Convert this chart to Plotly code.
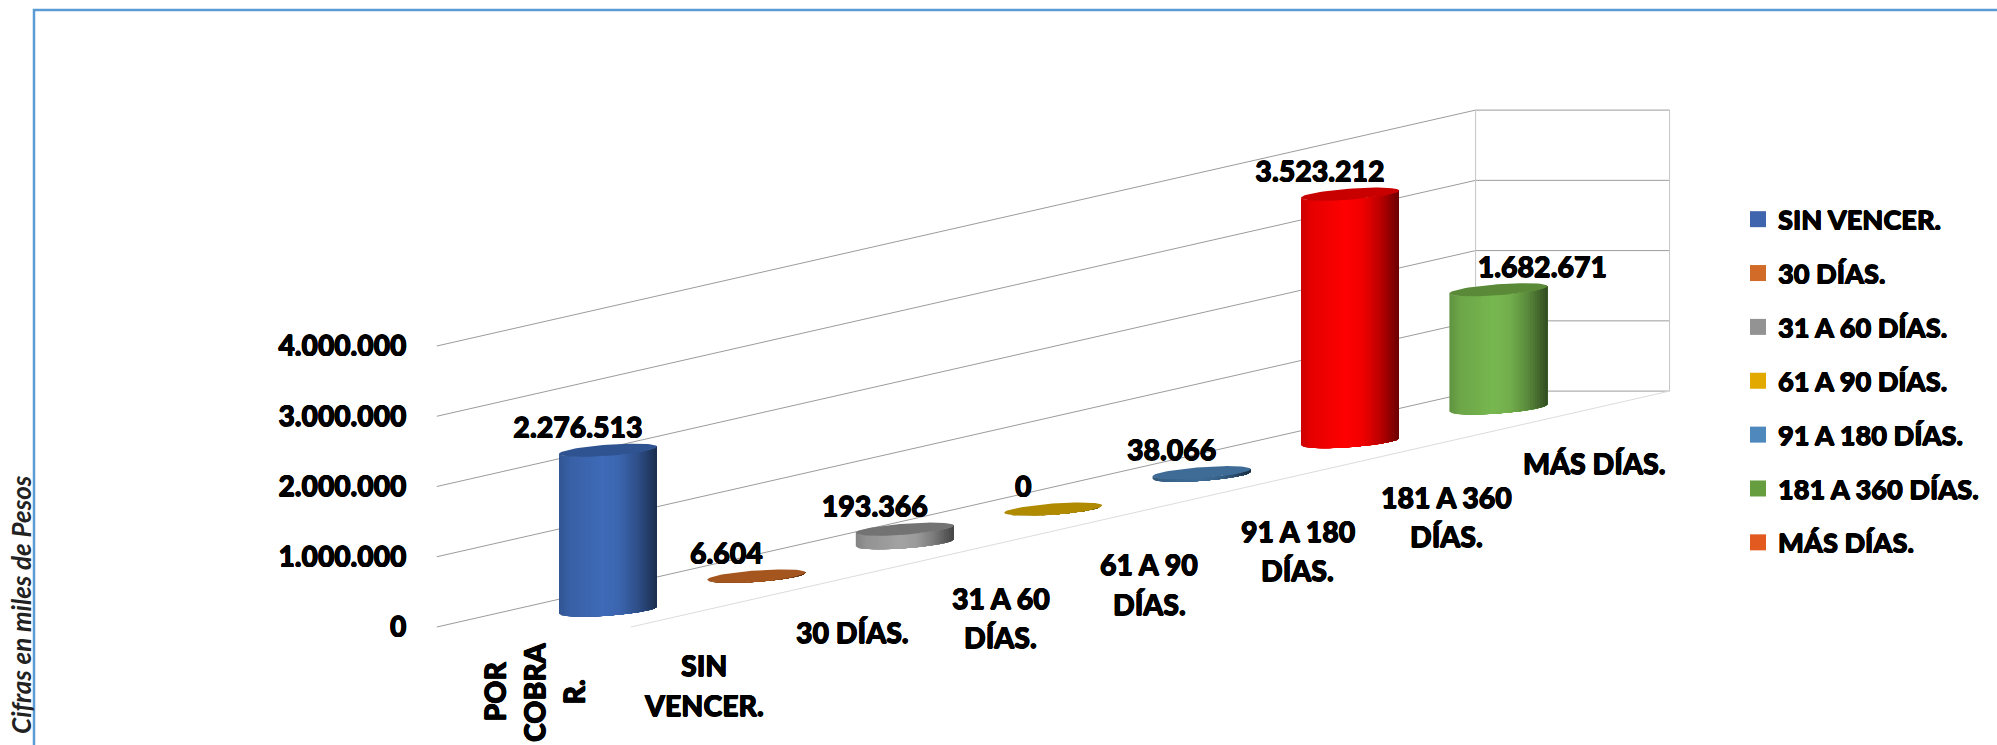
import numpy as np
import plotly.graph_objects as go

# ---- data ----
categories = ["POR<br>COBRA<br>R.", "SIN<br>VENCER.", "30 DÍAS.", "31 A 60<br>DÍAS.", "61 A 90<br>DÍAS.",
              "91 A 180<br>DÍAS.", "181 A 360<br>DÍAS.", "MÁS DÍAS."]
bar_values = [2276513, 6604, 193366, 0, 38066, 3523212, 1682671]
bar_colors = ["#3f6bb8", "#a5561f", "#a3a3a3", "#b08a00", "#3e6c96", "#ff0000", "#78b850"]
cap_colors = ["#2f5290", "#a5561f", "#737373", "#b08a00", "#3e6c96", "#c80000", "#5a8a38"]
legend_names = ["SIN VENCER.", "30 DÍAS.", "31 A 60 DÍAS.", "61 A 90 DÍAS.", "91 A 180 DÍAS.", "181 A 360 DÍAS.", "MÁS DÍAS."]
legend_colors = ["#3f65ae", "#d26b27", "#939393", "#e2aa00", "#4f88bd", "#659d3f", "#e25a1f"]
y_ticks = [0, 1000000, 2000000, 3000000, 4000000]

# ---- oblique projection expressed in the axes' own units ----
W, H = 1997, 745
PX_L, PX_R, PX_T = 415, 1700, 10
PX_PER_CAT = 148.4
PX_PER_VAL = 70.25e-6
X0_PX, Y0_PX = 608.0, 627.0
SHEAR = 33.7 / PX_PER_VAL          # value-units the floor rises per category
DEPTH = 97.0 / PX_PER_CAT          # category-units between mid-floor and wall/front
RADIUS = 49.0 / PX_PER_CAT
TILT = 3.6 / PX_PER_VAL
MINOR = 5.5 / PX_PER_VAL
px_units = 1 / PX_PER_VAL

xrange_ = [(PX_L - X0_PX) / PX_PER_CAT, (PX_R - X0_PX) / PX_PER_CAT]
yrange_ = [(Y0_PX - H) / PX_PER_VAL, (Y0_PX - PX_T) / PX_PER_VAL]


def lift(c, v):
    return v + (c + 0.5) * SHEAR


def shade(hex_color, f):
    r, g, b = [int(hex_color[i:i + 2], 16) for i in (1, 3, 5)]
    return f"rgb({min(255, int(r * f))},{min(255, int(g * f))},{min(255, int(b * f))})"


def grad(t):
    return float(np.interp(t, [0, 0.1, 0.45, 0.62, 0.8, 1.0], [0.80, 0.90, 1.0, 0.95, 0.75, 0.42]))


fig = go.Figure()

# walls and floor
GRID = "#9c9c9c"
for v in y_ticks:
    fig.add_trace(go.Scatter(
        x=[-0.5 - DEPTH, 6.5 - DEPTH, 6.5 + DEPTH],
        y=[lift(-0.5, v), lift(6.5, v), lift(6.5, v)],
        mode="lines", line=dict(color=GRID, width=1), hoverinfo="skip", showlegend=False))
for xw in (6.5 - DEPTH, 6.5 + DEPTH):
    fig.add_trace(go.Scatter(
        x=[xw, xw], y=[lift(6.5, y_ticks[0]), lift(6.5, y_ticks[-1])],
        mode="lines", line=dict(color="#c4c4c4", width=1), hoverinfo="skip", showlegend=False))
fig.add_trace(go.Scatter(
    x=[-0.5 + DEPTH, 6.5 + DEPTH], y=[lift(-0.5, 0), lift(6.5, 0)],
    mode="lines", line=dict(color="#dcdcdc", width=1), hoverinfo="skip", showlegend=False))

# cylinders: painted left to right, each band reaching the right edge so no seams show
us = np.linspace(-1, 1, 41)
for i, (val, col, cap) in enumerate(zip(bar_values, bar_colors, cap_colors)):
    base = lift(i, 0)
    for j in range(len(us) - 1):
        rest = us[j:]
        low = base + TILT * rest + MINOR * (-np.sqrt(np.clip(1 - rest ** 2, 0, 1)))
        c = shade(col, grad((us[j] + us[j + 1] + 2) / 4))
        fig.add_trace(go.Scatter(
            x=np.concatenate([i + RADIUS * rest, (i + RADIUS * rest)[::-1]]),
            y=np.concatenate([low, (low + val)[::-1]]),
            mode="lines", fill="toself", fillcolor=c, line=dict(width=0),
            hoverinfo="skip", showlegend=False))
    th = np.linspace(0, 2 * np.pi, 80)
    fig.add_trace(go.Scatter(
        x=i + RADIUS * np.cos(th),
        y=base + val + TILT * np.cos(th) + MINOR * np.sin(th),
        mode="lines", fill="toself", fillcolor=cap, line=dict(width=0),
        hoverinfo="skip", showlegend=False))

HEAVY = "0.5px 0 0 #000, -0.5px 0 0 #000, 0 0.5px 0 #000, 0 -0.5px 0 #000"


def txt(size):
    return dict(family="Lato", size=size, color="#000000", weight=900, shadow=HEAVY)


# data labels
label_dx = [-30 / PX_PER_CAT] * 6 + [44 / PX_PER_CAT]
fig.add_trace(go.Scatter(
    x=[i + d for i, d in enumerate(label_dx)],
    y=[lift(i, v) + 19.5 * px_units for i, v in enumerate(bar_values)],
    text=[f"{v:,}".replace(",", ".") for v in bar_values],
    mode="text", textposition="middle center", textfont=txt(28.5),
    hoverinfo="skip", showlegend=False))

# legend entries
for name, col in zip(legend_names, legend_colors):
    fig.add_trace(go.Scatter(
        x=[None], y=[None], mode="markers", name=name, legendgroup=name,
        marker=dict(symbol="square", size=19, color=col, line=dict(width=0))))

# category labels, one annotation per line so the line pitch can follow the reference
annos = []
LINE_PX = 39.5
for i, lab in enumerate(categories):
    for k, line in enumerate(lab.split("<br>")):
        if i == 0:
            annos.append(dict(x=(534 + (k - 1) * LINE_PX - X0_PX) / PX_PER_CAT, y=(Y0_PX - 692) / PX_PER_VAL,
                              text=line, xref="x", yref="y", showarrow=False, textangle=-90, font=txt(28.5),
                              xanchor="center", yanchor="middle"))
        else:
            c = i - 0.353
            annos.append(dict(x=c, y=lift(c, 0) - (58 + k * LINE_PX) * px_units, text=line, xref="x", yref="y",
                              showarrow=False, font=txt(28.5), xanchor="center", yanchor="top"))

fx = lambda px: (px - PX_L) / (PX_R - PX_L)
fy = lambda py: (H - py) / (H - PX_T)

annos.append(dict(x=fx(21), y=fy(605), xref="paper", yref="paper", text="Cifras en miles de Pesos",
                  textangle=-90, showarrow=False,
                  font=dict(family="Lato", size=26, color="#222222", style="italic", weight=700),
                  xanchor="center", yanchor="middle"))

frame = dict(type="path", xref="paper", yref="paper",
             path=f"M {fx(34)} {fy(H + 5)} L {fx(34)} {fy(10)} L {fx(W + 5)} {fy(10)}",
             line=dict(color="#5b9bd5", width=2.5))

fig.update_layout(
    width=W, height=H, autosize=False,
    margin=dict(l=PX_L, r=W - PX_R, t=PX_T, b=0, pad=0, autoexpand=False),
    paper_bgcolor="#ffffff", plot_bgcolor="rgba(0,0,0,0)",
    separators=",.",
    xaxis=dict(visible=False, range=xrange_, fixedrange=True),
    yaxis=dict(range=yrange_, tickvals=y_ticks, tickformat=",d", showgrid=False, zeroline=False, showline=False,
               ticks="outside", ticklen=2, tickcolor="rgba(0,0,0,0)", fixedrange=True, tickfont=txt(28.2)),
    legend=dict(x=fx(1738), y=fy(195), xanchor="left", yanchor="top", bgcolor="rgba(0,0,0,0)",
                font=txt(27.2),
                itemsizing="trace", tracegroupgap=15.5, traceorder="grouped"),
    annotations=annos, shapes=[frame], hovermode=False, showlegend=True)

fig.write_html("out.html", config=dict(displayModeBar=False, responsive=False),
               post_script="document.body.style.margin='0';document.body.style.overflow='hidden';")
